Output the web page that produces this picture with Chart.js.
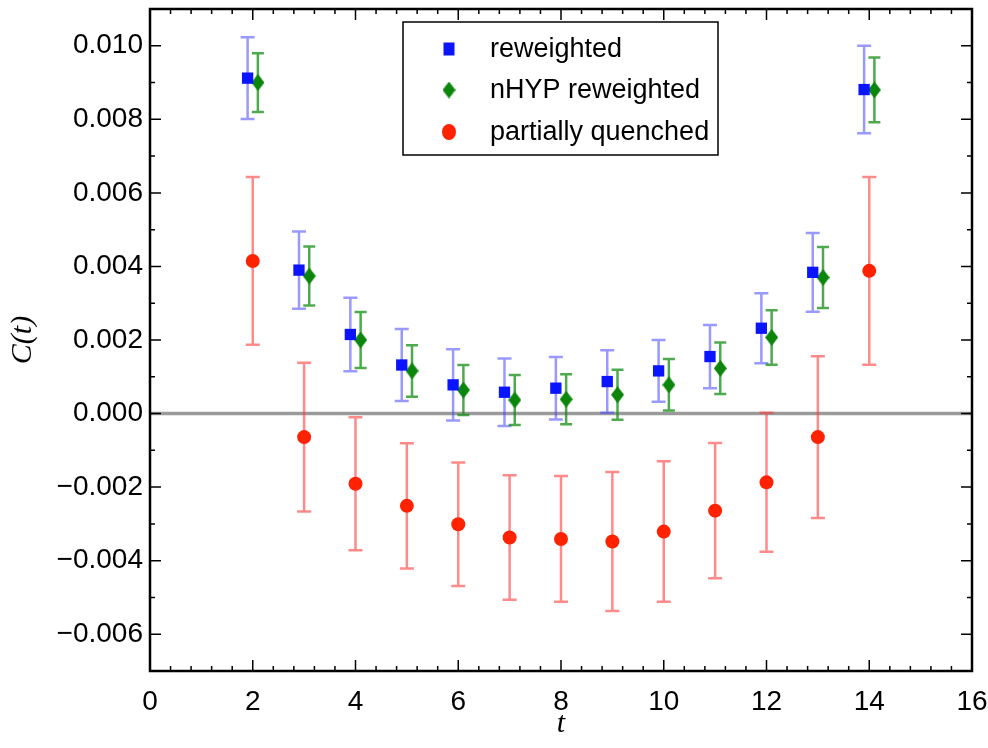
<!DOCTYPE html>
<html>
<head>
<meta charset="utf-8">
<script src="https://cdn.jsdelivr.net/npm/chart.js@4"></script>
<style>
  body { margin: 0; background: #fff; }
  canvas { display: block; }
</style>
</head>
<body>
<canvas id="corr" width="988" height="748"></canvas>
<script>
// data
const tValues = [2, 3, 4, 5, 6, 7, 8, 9, 10, 11, 12, 13, 14];

const reweighted    = [0.00912, 0.00390, 0.00215, 0.00132, 0.00078, 0.00058, 0.00069, 0.00087, 0.00116, 0.00155, 0.00232, 0.00384, 0.00881];
const reweightedErr = [0.00111, 0.00105, 0.00100, 0.00098, 0.00097, 0.00092, 0.00085, 0.00085, 0.00084, 0.00086, 0.00095, 0.00107, 0.00119];

const nhypReweighted = [0.00900, 0.00374, 0.00200, 0.00116, 0.00064, 0.00037, 0.00039, 0.00051, 0.00078, 0.00123, 0.00207, 0.00370, 0.00880];
const nhypErr        = [0.00080, 0.00080, 0.00076, 0.00070, 0.00068, 0.00068, 0.00068, 0.00068, 0.00070, 0.00070, 0.00074, 0.00083, 0.00088];

const partiallyQuenched = [0.00415, -0.00064, -0.00191, -0.00251, -0.00301, -0.00337, -0.00341, -0.00348, -0.00321, -0.00264, -0.00187, -0.00064, 0.00388];
const quenchedErr       = [0.00228, 0.00202, 0.00181, 0.00170, 0.00168, 0.00169, 0.00171, 0.00189, 0.00191, 0.00184, 0.00189, 0.00220, 0.00255];

// horizontal shift of the two reweighted series so they don't overlap
const shiftBlue = -0.1, shiftGreen = 0.1;

const xTickValues = [0, 2, 4, 6, 8, 10, 12, 14, 16];
const yTickValues = [-0.006, -0.004, -0.002, 0.000, 0.002, 0.004, 0.006, 0.008, 0.010];

const FONT = "'Liberation Sans', Arial, sans-serif";

// green diamond marker (a bit taller than wide)
function diamondImg(w, h, color) {
    const c = document.createElement('canvas');
    c.width = w; c.height = h;
    const g = c.getContext('2d');
    g.fillStyle = color;
    g.beginPath();
    g.moveTo(w / 2, 0); g.lineTo(w, h / 2); g.lineTo(w / 2, h); g.lineTo(0, h / 2);
    g.closePath(); g.fill();
    return c;
}
const diamond = diamondImg(13, 17, '#0b860b');

const series = [
    { label: 'partially quenched', y: partiallyQuenched, err: quenchedErr, shift: 0, color: '#ff2200', barColor: 'rgba(255,60,60,0.6)', cap: 7, style: 'circle', radius: 7 },
    { label: 'reweighted', y: reweighted, err: reweightedErr, shift: shiftBlue, color: '#0a14ff', barColor: 'rgba(70,70,255,0.55)', cap: 7, style: 'rect', radius: 8 },
    { label: 'nHYP reweighted', y: nhypReweighted, err: nhypErr, shift: shiftGreen, color: '#0b860b', barColor: 'rgba(20,140,20,0.75)', cap: 6, style: diamond, radius: 9 }
];

const datasets = series.map(s => ({
    label: s.label,
    data: tValues.map((t, i) => ({ x: t + s.shift, y: s.y[i] })),
    pointStyle: s.style,
    pointRadius: s.radius,
    pointHoverRadius: s.radius,
    backgroundColor: s.color,
    borderColor: s.color,
    borderWidth: 0,
    showLine: false,
    err: s.err,
    barColor: s.barColor,
    cap: s.cap
}));

const decorations = {
    id: 'decorations',
    beforeDatasetsDraw(chart) {
        const { ctx, chartArea: a, scales: { x, y } } = chart;
        ctx.save();
        // zero line
        ctx.strokeStyle = '#9a9a9a';
        ctx.lineWidth = 3.5;
        ctx.beginPath();
        ctx.moveTo(a.left, y.getPixelForValue(0));
        ctx.lineTo(a.right, y.getPixelForValue(0));
        ctx.stroke();
        // error bars
        chart.data.datasets.forEach(ds => {
            ctx.strokeStyle = ds.barColor;
            ctx.lineWidth = 2.5;
            ds.data.forEach((p, i) => {
                const px = x.getPixelForValue(p.x);
                const top = y.getPixelForValue(p.y + ds.err[i]);
                const bot = y.getPixelForValue(p.y - ds.err[i]);
                ctx.beginPath();
                ctx.moveTo(px, top); ctx.lineTo(px, bot);
                ctx.moveTo(px - ds.cap, top); ctx.lineTo(px + ds.cap, top);
                ctx.moveTo(px - ds.cap, bot); ctx.lineTo(px + ds.cap, bot);
                ctx.stroke();
            });
        });
        ctx.restore();
    },
    afterDraw(chart) {
        const { ctx, chartArea: a, scales: { x, y } } = chart;
        ctx.save();
        // frame
        ctx.strokeStyle = '#000';
        ctx.lineWidth = 2.5;
        ctx.strokeRect(a.left, a.top, a.right - a.left, a.bottom - a.top);
        // inward ticks on all four sides
        ctx.lineWidth = 1.5;
        ctx.beginPath();
        for (let v = 0; v <= 16.001; v += 0.4) {
            const major = Math.abs(v / 2 - Math.round(v / 2)) < 1e-6;
            const len = major ? 11 : 5;
            const px = x.getPixelForValue(v);
            ctx.moveTo(px, a.bottom); ctx.lineTo(px, a.bottom - len);
            ctx.moveTo(px, a.top); ctx.lineTo(px, a.top + len);
        }
        for (let k = -7; k <= 11; k++) {
            const v = k / 1000;
            const len = k % 2 === 0 ? 11 : 5;
            const py = y.getPixelForValue(v);
            ctx.moveTo(a.left, py); ctx.lineTo(a.left + len, py);
            ctx.moveTo(a.right, py); ctx.lineTo(a.right - len, py);
        }
        ctx.stroke();

        // legend box
        const lx = 403, ly = 22, lw = 315, lh = 133;
        ctx.fillStyle = '#fff';
        ctx.fillRect(lx, ly, lw, lh);
        ctx.strokeStyle = '#000';
        ctx.lineWidth = 1.5;
        ctx.strokeRect(lx, ly, lw, lh);
        const order = [1, 2, 0];
        const rowsY = [49, 90, 132];
        ctx.font = '27px ' + FONT;
        ctx.textBaseline = 'middle';
        ctx.textAlign = 'left';
        order.forEach((di, r) => {
            const ds = chart.data.datasets[di];
            const cy = rowsY[r], cx = 449;
            ctx.fillStyle = ds.backgroundColor;
            if (ds.pointStyle === 'rect') {
                ctx.fillRect(cx - 5.5, cy - 6.5, 11, 13);
            } else if (ds.pointStyle === 'circle') {
                ctx.beginPath();
                ctx.ellipse(cx, cy, 7, 8, 0, 0, Math.PI * 2);
                ctx.fill();
            } else {
                ctx.drawImage(ds.pointStyle, cx - 6.5, cy - 8.5);
            }
            ctx.fillStyle = '#000';
            ctx.fillText(ds.label, 490, cy + 1);
        });
        ctx.restore();
    }
};

new Chart(document.getElementById('corr'), {
    type: 'scatter',
    data: { datasets },
    options: {
        responsive: false,
        animation: false,
        layout: { padding: { top: 8, right: 16, left: 0, bottom: 0 } },
        plugins: { legend: { display: false }, tooltip: { enabled: false } },
        scales: {
            x: {
                type: 'linear', min: 0, max: 16,
                afterBuildTicks: s => { s.ticks = xTickValues.map(v => ({ value: v })); },
                afterFit: s => { s.height = 77; s.paddingLeft = 0; s.paddingRight = 0; },
                grid: { display: false, drawTicks: false },
                border: { display: false },
                ticks: { color: '#000', font: { family: FONT, size: 28 }, padding: 14, maxRotation: 0, autoSkip: false },
                title: { display: true, text: 't', color: '#000', font: { family: "'Liberation Serif', serif", size: 30, style: 'italic' }, padding: { top: 0, bottom: 6 } }
            },
            y: {
                type: 'linear', min: -0.007, max: 0.011,
                afterBuildTicks: s => { s.ticks = yTickValues.map(v => ({ value: v })); },
                afterFit: s => { s.width = 150; s.paddingTop = 0; s.paddingBottom = 0; },
                grid: { display: false, drawTicks: false },
                border: { display: false },
                ticks: {
                    color: '#000', font: { family: FONT, size: 28 }, padding: 7, autoSkip: false,
                    callback: v => v.toFixed(3).replace('-', '\u2212')
                },
                title: { display: true, text: 'C(t)', color: '#000', font: { family: "'Liberation Serif', serif", size: 30, style: 'italic' }, padding: { top: 5, bottom: 0 } }
            }
        }
    },
    plugins: [decorations]
});
</script>
</body>
</html>
